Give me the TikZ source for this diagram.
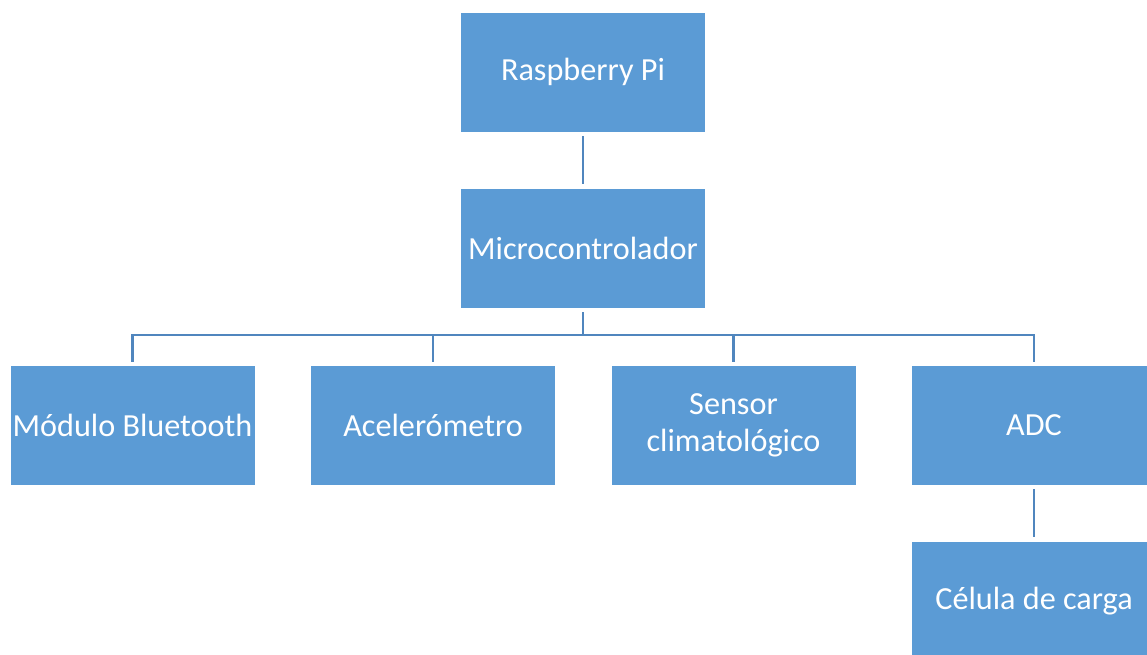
\documentclass[tikz,border=0pt]{standalone}
\usepackage{fontspec}
\setmainfont{Carlito}
\usepackage{tikz}
\usetikzlibrary{positioning}

\definecolor{boxblue}{RGB}{91,155,213}
\definecolor{lineblue}{RGB}{80,134,190}

\begin{document}
\begin{tikzpicture}[
    x=1pt, y=-1pt,
    block/.style={rectangle, fill=boxblue, draw=white, line width=0.8pt, minimum width=245pt, minimum height=120pt, inner sep=2pt, text=white, align=center, font=\fontsize{32.2}{37}\selectfont},
    link/.style={draw=lineblue, line width=2.8pt, shorten <=4pt, shorten >=4pt},
    bus/.style={draw=lineblue, line width=2.8pt, shorten >=3pt}
]
\useasboundingbox (0,0) rectangle (1147,655);
\clip (0,0) rectangle (1147,655);

% nivel superior
\node[block] (raspberry) at (583,72) {Raspberry Pi};
\node[block] (micro) at (583,248) {Microcontrolador};

% perifericos
\node[block] (bluetooth) at (132.5,425) {Módulo Bluetooth};
\node[block] (acelerometro) at (433,425) {Acelerómetro};
\node[block] (sensor) at (733.5,425) {Sensor\\climatológico};
\node[block] (adc) at (1034,425) {ADC};
\node[block] (celula) at (1034,601) {Célula de carga};

% conexiones
\coordinate (bus_mid) at (583,335);
\draw[link] (raspberry) -- (micro);
\draw[link, shorten >=0pt] (micro) -- (bus_mid);
\draw[bus] (bus_mid) -| (bluetooth);
\draw[bus] (bus_mid) -| (acelerometro);
\draw[bus] (bus_mid) -| (sensor);
\draw[bus] (bus_mid) -| (adc);
\draw[link] (adc) -- (celula);

\end{tikzpicture}
\end{document}
